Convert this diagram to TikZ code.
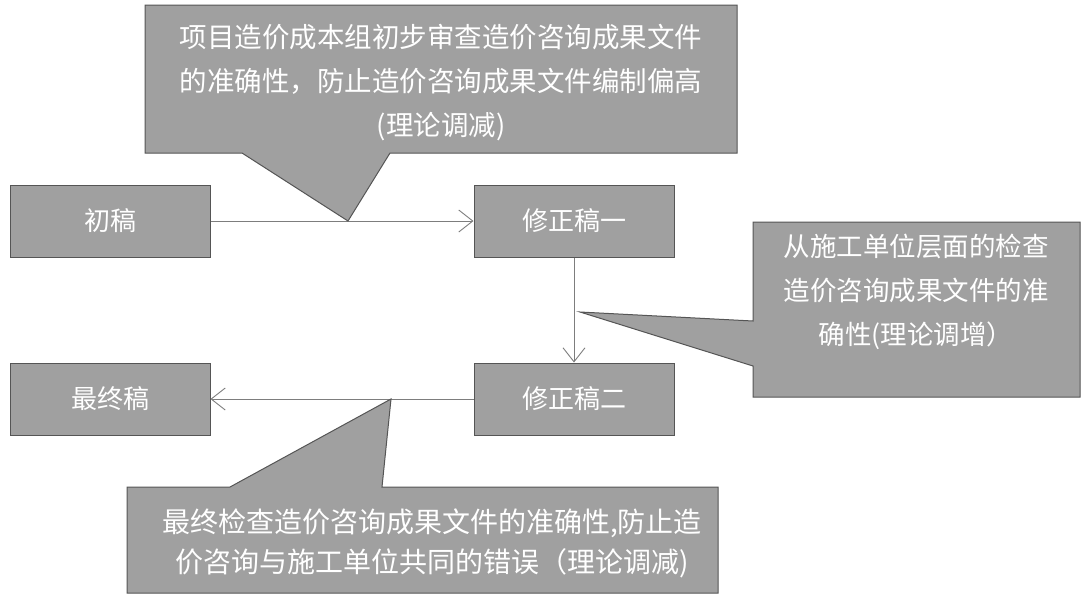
\documentclass[tikz,border=0pt]{standalone}
\usepackage{fontspec}
\setmainfont{Noto Sans CJK SC}
\usetikzlibrary{arrows.meta,positioning}
\definecolor{boxgray}{RGB}{160,160,160}
\definecolor{edgegray}{RGB}{85,85,85}
\definecolor{linegray}{RGB}{125,125,125}
\tikzset{
  stagebox/.style={draw=edgegray, fill=boxgray, text=white, font=\fontsize{26}{30}\selectfont,
               minimum width=200pt, minimum height=72pt, inner sep=0pt, line width=1pt},
  notebox/.style={draw=edgegray, fill=boxgray, line width=1pt},
  notetext/.style={text=white, align=center, font=\fontsize{27.5}{44}\selectfont, inner sep=0pt},
  flow/.style={-{Straight Barb[length=14pt,width=22pt]}, draw=linegray, line width=0.9pt},
}

\begin{document}
\begin{tikzpicture}[x=1pt, y=-1pt]
  \useasboundingbox (0,0) rectangle (1085,598);
  \node[stagebox] (draft) at (110,221) {初稿};
  \node[stagebox, right=263pt of draft] (rev1) {修正稿一};
  \node[stagebox, below=105pt of rev1] (rev2) {修正稿二};
  \node[stagebox, left=263pt of rev2] (final) {最终稿};
  \draw[flow] (draft) -- (rev1);
  \draw[flow] (rev1) -- (rev2);
  \draw[flow] (rev2) -- (final);
  % callouts
  \coordinate (tipA) at (348,221);
  \coordinate (tipB) at (580,312);
  \coordinate (tipC) at (391,399);
  \draw[notebox] (145,5) -- (737,5) -- (737,153) -- (390,153) -- (tipA) -- (242,153) -- (145,153) -- cycle;
  \node[notetext] (costnote) at (441,83) {项目造价成本组初步审查造价咨询成果文件\\的准确性，防止造价咨询成果文件编制偏高\\(理论调减)};
  \draw[notebox] (753,222) -- (1080,222) -- (1080,397) -- (753,397) -- (753,366) -- (tipB) -- (753,321) -- cycle;
  \node[notetext, font=\fontsize{26.5}{44}\selectfont] (sitenote) at (916,292) {从施工单位层面的检查\\造价咨询成果文件的准\\确性(理论调增）};
  \draw[notebox] (127,487) -- (230,487) -- (tipC) -- (382,487) -- (718,487) -- (718,593) -- (127,593) -- cycle;
  \node[notetext, font=\fontsize{28}{40}\selectfont] (finalnote) at (432,543) {最终检查造价咨询成果文件的准确性,防止造\\价咨询与施工单位共同的错误（理论调减)};
\end{tikzpicture}
\end{document}
